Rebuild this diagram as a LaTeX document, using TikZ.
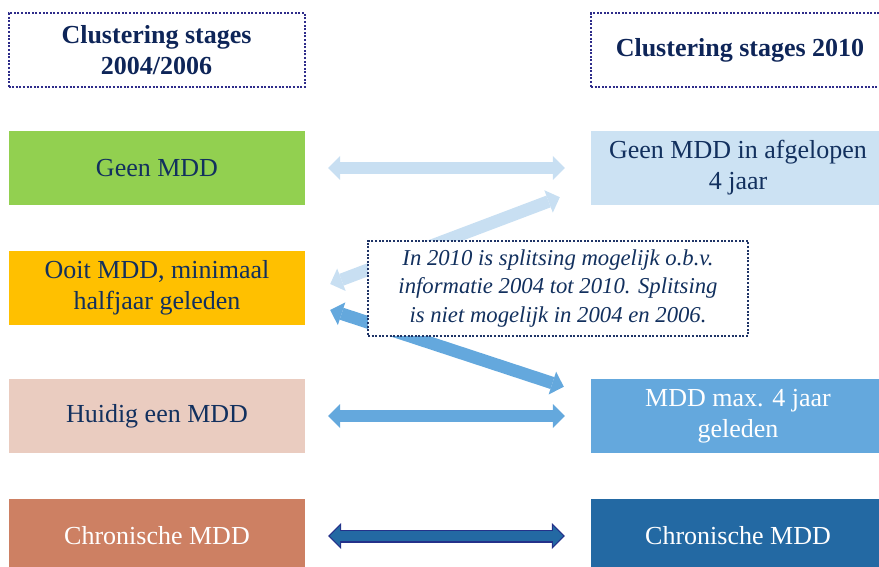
\documentclass[tikz,border=0pt]{standalone}
\usepackage{fontspec}
\setmainfont{Liberation Serif}
\usetikzlibrary{arrows.meta}
\definecolor{txtnavy}{HTML}{12305E}
\definecolor{headnavy}{HTML}{0E2558}
\definecolor{dotnavy}{HTML}{2E2C8A}
\definecolor{notenavy}{HTML}{1F3466}
\definecolor{cgreen}{HTML}{92D050}
\definecolor{corange}{HTML}{FFC000}
\definecolor{cpink}{HTML}{EACCC0}
\definecolor{cterra}{HTML}{CD8063}
\definecolor{clight}{HTML}{CCE2F3}
\definecolor{clightarr}{HTML}{C8DFF2}
\definecolor{cmed}{HTML}{64A8DD}
\definecolor{cdark}{HTML}{2369A3}
\definecolor{cedge}{HTML}{24318A}
\tikzset{
  box/.style={minimum width=296pt, minimum height=74pt, inner sep=0pt, align=center,
    font=\fontsize{26}{31}\selectfont, text=txtnavy},
  head/.style={box, draw=dotnavy, line width=2pt, dash pattern=on 2pt off 1.6pt,
    font=\bfseries\fontsize{26}{31}\selectfont, text=headnavy},
  note/.style={draw=notenavy, fill=white, line width=2pt, dash pattern=on 2pt off 1.6pt,
    minimum width=380pt, minimum height=95pt, inner sep=0pt, align=center,
    font=\itshape\fontsize{22.7}{28.5}\selectfont, text=txtnavy},
  arr/.style={line width=12.5pt,
    {Triangle[length=12pt,width=24pt,line width=0pt]}-{Triangle[length=12pt,width=24pt,line width=0pt]}},
}
\begin{document}
\begin{tikzpicture}[x=1pt,y=-1pt]
  \useasboundingbox (0,0) rectangle (879,567);
  % headers
  \node[head] (h1) at (156.5,50) {Clustering stages\\2004/2006};
  \node[head, minimum width=298pt] (h2) at (740,50) {Clustering stages 2010};
  % stages 2004/2006
  \node[box, fill=cgreen] (a1) at (157,168) {Geen MDD};
  \node[box, fill=corange] (a2) at (157,288) {Ooit MDD, minimaal\\halfjaar geleden};
  \node[box, fill=cpink] (a3) at (157,416) {Huidig een MDD};
  \node[box, fill=cterra, text=white] (a4) at (157,536) {Chronische MDD};
  % stages 2010
  \node[box, fill=clight, minimum width=294pt] (b1) at (738,168) {Geen MDD in afgelopen\\4 jaar};
  \node[box, fill=cmed, text=white, minimum width=294pt] (b3) at (738,416) {MDD max. 4 jaar\\geleden};
  \node[box, fill=cdark, text=white, minimum width=294pt] (b4) at (738,536) {Chronische MDD};
  % arrows
  \draw[arr, draw=clightarr] ([xshift=23pt]a1.east) -- ([xshift=-26pt]b1.west);
  \draw[arr, draw=clightarr] ([xshift=25pt,yshift=4pt]a2.east) -- ([xshift=-31pt,yshift=8pt]b1.south west);
  \draw[arr, draw=cmed] ([xshift=25pt,yshift=-22pt]a2.east) -- ([xshift=-27pt,yshift=-8pt]b3.north west);
  \draw[arr, draw=cmed] ([xshift=23pt]a3.east) -- ([xshift=-26pt]b3.west);
  \draw[line width=13pt, draw=cedge,
    {Triangle[length=13pt,width=26pt,line width=0pt]}-{Triangle[length=13pt,width=26pt,line width=0pt]}]
    ([xshift=23pt]a4.east) -- ([xshift=-26pt]b4.west);
  \draw[line width=10.6pt, draw=cdark, shorten <=1.7pt, shorten >=1.7pt,
    {Triangle[length=10.1pt,width=20.2pt,line width=0pt]}-{Triangle[length=10.1pt,width=20.2pt,line width=0pt]}]
    ([xshift=23pt]a4.east) -- ([xshift=-26pt]b4.west);
  % note
  \node[note] (n) at (558,288.5) {In 2010 is splitsing mogelijk o.b.v.\\informatie 2004 tot 2010. Splitsing\\is niet mogelijk in 2004 en 2006.};
\end{tikzpicture}
\end{document}
